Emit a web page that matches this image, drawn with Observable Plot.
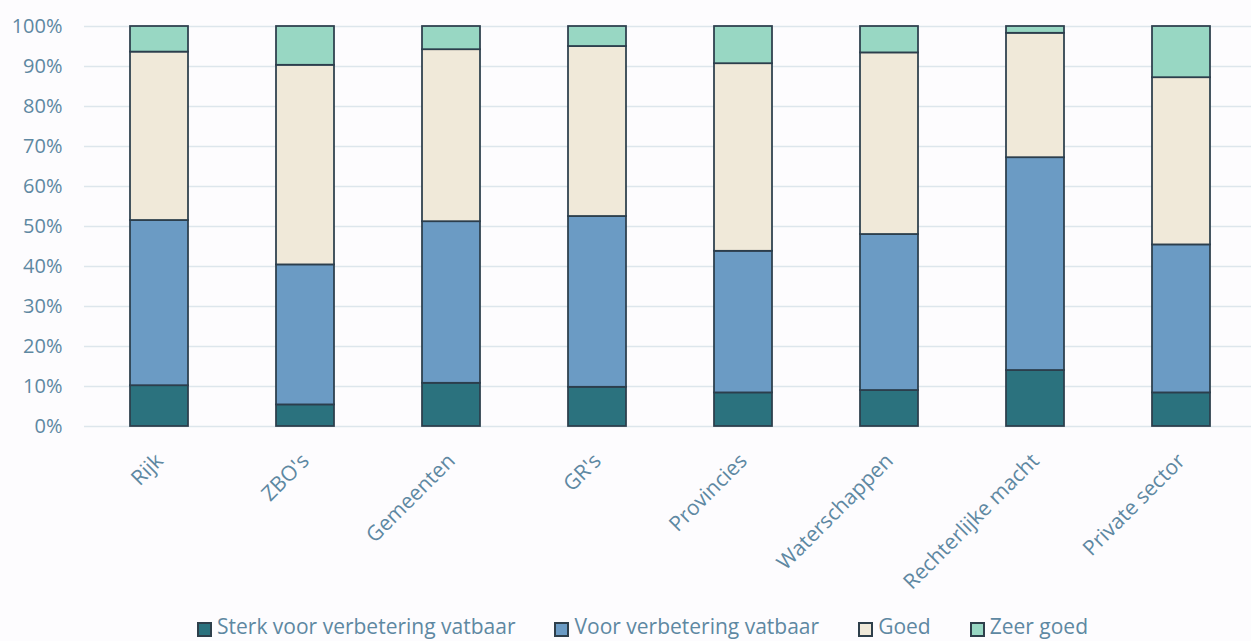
<!DOCTYPE html>
<html>
<head>
<meta charset="utf-8">
<script src="https://cdn.jsdelivr.net/npm/d3@7"></script>
<script src="https://cdn.jsdelivr.net/npm/@observablehq/plot@0.6"></script>
<style>
  html, body { margin: 0; padding: 0; background: #fdfcfe; overflow: hidden; }
  #chart svg { display: block; }
  .legend {
    display: flex;
    align-items: baseline;
    height: 28px;
    line-height: 28px;
    padding-left: 197px;
    font-family: "Open Sans", sans-serif;
    font-size: 21px;
    color: #5e88a2;
    white-space: nowrap;
  }
  .legend .item { margin-right: 39px; }
  .legend .swatch {
    display: inline-block;
    width: 11px;
    height: 11px;
    border: 2px solid #2e3f4b;
    margin-right: 5px;
    vertical-align: -3px;
  }
</style>
</head>
<body>
<div id="chart"></div>
<div class="legend" id="legend"></div>
<script>
// Sectors on the x axis
const categories = ["Rijk", "ZBO's", "Gemeenten", "GR's", "Provincies", "Waterschappen", "Rechterlijke macht", "Private sector"];

// Rating categories, stacked from bottom to top
const series = ["Sterk voor verbetering vatbaar", "Voor verbetering vatbaar", "Goed", "Zeer goed"];
const colors = ["#2b727e", "#6b9bc4", "#f0e9d9", "#98d7c3"];

// Share of respondents per rating (%)
const sterk    = [10.2,  5.4, 10.8,  9.8,  8.4,  9.0, 14.0,  8.4];
const voor     = [41.3, 35.0, 40.4, 42.7, 35.4, 39.0, 53.2, 37.0];
const goed     = [42.1, 49.9, 43.0, 42.5, 46.9, 45.4, 31.1, 41.8];
const zeerGoed = [ 6.4,  9.7,  5.8,  5.0,  9.3,  6.6,  1.7, 12.8];

// Y axis ticks
const yTicks = [0, 10, 20, 30, 40, 50, 60, 70, 80, 90, 100];

const valuesBySeries = [sterk, voor, goed, zeerGoed];
const rows = [];
series.forEach((s, si) => {
  categories.forEach((c, ci) => {
    rows.push({category: c, series: s, value: valuesBySeries[si][ci]});
  });
});

const chart = Plot.plot({
  width: 1251,
  height: 612,
  marginTop: 26,
  marginBottom: 186,
  marginLeft: 84,
  marginRight: 0,
  style: {
    fontFamily: "Open Sans, sans-serif",
    color: "#5e88a2",
    background: "#fdfcfe",
    overflow: "visible"
  },
  x: {domain: categories, paddingInner: 0.6, paddingOuter: 0.285, align: 0.53, label: null},
  y: {domain: [0, 100], label: null},
  color: {domain: series, range: colors},
  marks: [
    Plot.ruleY(yTicks, {stroke: "#dde6ec", strokeWidth: 1.5}),
    Plot.barY(rows, {
      x: "category",
      y: "value",
      fill: "series",
      stroke: "#2c3e4c",
      strokeWidth: 1.75
    }),
    Plot.axisY({
      ticks: yTicks,
      tickFormat: d => d + "%",
      tickSize: 0,
      tickPadding: 22,
      fontSize: 20,
      label: null
    }),
    Plot.axisX({
      tickRotate: -45,
      tickSize: 0,
      tickPadding: 31,
      fontSize: 21,
      label: null
    })
  ]
});
document.getElementById("chart").appendChild(chart);

// Legend below the chart
const legend = document.getElementById("legend");
series.forEach((s, i) => {
  const item = document.createElement("span");
  item.className = "item";
  const sw = document.createElement("span");
  sw.className = "swatch";
  sw.style.background = colors[i];
  item.appendChild(sw);
  item.appendChild(document.createTextNode(s));
  legend.appendChild(item);
});
</script>
</body>
</html>
